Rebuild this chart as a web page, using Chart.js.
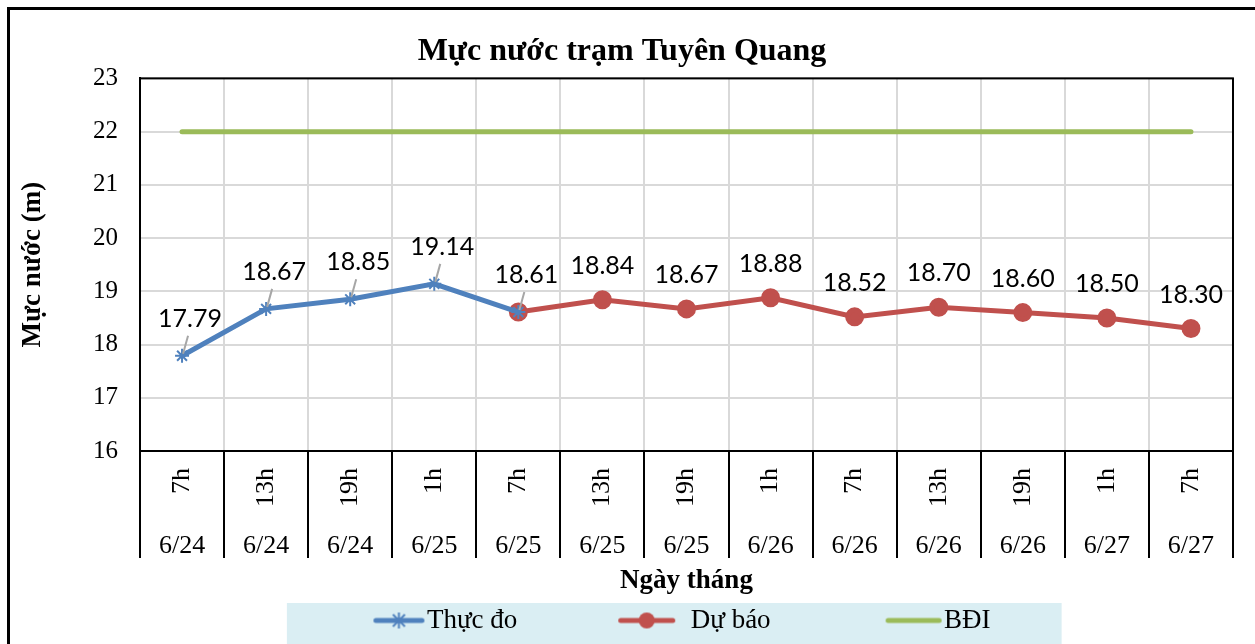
<!DOCTYPE html>
<html>
<head>
<meta charset="utf-8">
<script src="https://cdn.jsdelivr.net/npm/chart.js@4.4.0/dist/chart.umd.min.js"></script>
<style>
  html, body { margin: 0; padding: 0; background: #fff; overflow: hidden; }
  #frame { position: absolute; left: 7px; top: 7px; width: 1300px; height: 700px; border: 3px solid #000; }
  #wrap { position: absolute; left: 0; top: 0; width: 1255px; height: 644px; }
</style>
</head>
<body>
<div id="frame"></div>
<div id="wrap"><canvas id="mucNuoc" width="1255" height="644"></canvas></div>
<script>
// du lieu muc nuoc tram Tuyen Quang
const hours = ['7h', '13h', '19h', '1h', '7h', '13h', '19h', '1h', '7h', '13h', '19h', '1h', '7h'];
const dates = ['6/24', '6/24', '6/24', '6/25', '6/25', '6/25', '6/25', '6/26', '6/26', '6/26', '6/26', '6/27', '6/27'];
const thucDo = [17.79, 18.67, 18.85, 19.14, 18.61, null, null, null, null, null, null, null, null];
const duBao = [null, null, null, null, 18.61, 18.84, 18.67, 18.88, 18.52, 18.70, 18.60, 18.50, 18.30];
const bdi = [22, 22, 22, 22, 22, 22, 22, 22, 22, 22, 22, 22, 22];
const yMin = 16, yMax = 23, yStep = 1;

const BLUE = '#4F81BD', RED = '#C0504D', GREEN = '#9BBB59';
const SERIF = "'Liberation Serif', 'Times New Roman', serif";
const BOX = 160;   // be rong o ky hieu chu giai
const EXTRA = 14;  // hinh ky hieu tran ra 2 ben o

// ky hieu chu giai kieu Excel: doan thang + marker
// from/to tinh tu dau chu (am = ben trai)
function legendMarker(color, kind, from, to) {
  const c = document.createElement('canvas');
  c.width = BOX + 2 * EXTRA; c.height = 20;
  const g = c.getContext('2d');
  const textStart = BOX + 13.5 + EXTRA;
  const x0 = textStart + from, x1 = textStart + to;
  g.strokeStyle = color; g.fillStyle = color;
  g.lineWidth = 5; g.lineCap = 'round';
  g.beginPath(); g.moveTo(x0 + 3, 10); g.lineTo(x1 - 3, 10); g.stroke();
  const cx = (x0 + x1) / 2;
  if (kind === 'circle') {
    g.beginPath(); g.arc(cx, 10, 8, 0, Math.PI * 2); g.fill();
  } else if (kind === 'star') {
    g.lineWidth = 2; g.lineCap = 'butt';
    g.beginPath();
    g.moveTo(cx - 6, 4); g.lineTo(cx + 6, 16);
    g.moveTo(cx + 6, 4); g.lineTo(cx - 6, 16);
    g.moveTo(cx, 2); g.lineTo(cx, 18);
    g.stroke();
  }
  return c;
}
const markers = [
  legendMarker(BLUE, 'star', -54, -2),
  legendMarker(RED, 'circle', -73, -15),
  legendMarker(GREEN, 'none', -59, -2)
];

const plotBorder = {
  id: 'plotBorder',
  beforeDatasetsDraw(chart) {
    const {ctx, chartArea: a} = chart;
    ctx.save();
    ctx.strokeStyle = '#000'; ctx.lineWidth = 2;
    ctx.strokeRect(a.left, a.top, a.right - a.left, a.bottom - a.top);
    ctx.restore();
  }
};

const legendBg = {
  id: 'legendBg',
  beforeDraw(chart) {
    const boxes = chart.legend && chart.legend.legendHitBoxes;
    if (!boxes || !boxes.length) return;
    const first = boxes[0], last = boxes[boxes.length - 1];
    const ctx = chart.ctx;
    ctx.save();
    ctx.fillStyle = '#DAEEF3';
    const left = first.left + BOX + 13.5 - 140;
    const right = last.left + last.width + 71;
    ctx.fillRect(left, first.top - 4, right - left, chart.height);
    ctx.restore();
  }
};

const pointLabels = {
  id: 'pointLabels',
  afterDatasetsDraw(chart) {
    const ctx = chart.ctx;
    ctx.save();
    ctx.font = "25px Lato, 'Open Sans', sans-serif";
    ctx.textAlign = 'center';
    ctx.textBaseline = 'middle';
    [0, 1].forEach(di => {
      const values = chart.data.datasets[di].data;
      chart.getDatasetMeta(di).data.forEach((pt, i) => {
        if (values[i] == null) return;
        if (di === 1 && thucDo[i] != null) return; // diem chung chi ghi 1 lan
        if (di === 0) {
          ctx.strokeStyle = '#A6A6A6'; ctx.lineWidth = 2;
          ctx.beginPath(); ctx.moveTo(pt.x + 1, pt.y - 2); ctx.lineTo(pt.x + 6, pt.y - 20); ctx.stroke();
          ctx.fillStyle = '#000';
          ctx.fillText(values[i].toFixed(2), pt.x + 8, pt.y - 37);
        } else {
          ctx.fillStyle = '#000';
          ctx.fillText(values[i].toFixed(2), pt.x, pt.y - 34);
        }
      });
    });
    ctx.restore();
  }
};

const ctx_mucnuoc = document.getElementById('mucNuoc').getContext('2d');
const chart = new Chart(ctx_mucnuoc, {
  type: 'line',
  data: {
    labels: hours,
    datasets: [
      {
        label: 'Thực đo',
        data: thucDo,
        borderColor: BLUE,
        backgroundColor: BLUE,
        borderWidth: 5,
        pointStyle: 'star',
        pointRadius: 7,
        pointBorderWidth: 2,
        pointBorderColor: BLUE,
        tension: 0,
        spanGaps: false
      },
      {
        label: 'Dự báo',
        data: duBao,
        borderColor: RED,
        backgroundColor: RED,
        borderWidth: 5,
        pointStyle: 'circle',
        pointRadius: 7,
        pointBackgroundColor: RED,
        pointBorderColor: RED,
        tension: 0
      },
      {
        label: 'BĐI',
        data: bdi,
        borderColor: GREEN,
        backgroundColor: GREEN,
        borderWidth: 5,
        borderCapStyle: 'round',
        pointRadius: 0,
        tension: 0
      }
    ]
  },
  options: {
    responsive: false,
    animation: false,
    maintainAspectRatio: false,
    layout: { padding: { left: 11, right: 22, top: 10, bottom: 0 } },
    scales: {
      x: {
        type: 'category',
        position: 'bottom',
        offset: true,
        grid: {
          offset: true,
          color: '#D9D9D9',
          lineWidth: 2,
          tickColor: '#000',
          tickWidth: 2,
          tickLength: 107
        },
        border: { display: true, color: '#000', width: 2 },
        ticks: {
          autoSkip: false,
          minRotation: 90,
          maxRotation: 90,
          padding: -90,
          color: '#000',
          font: { family: SERIF, size: 26 }
        },
        afterFit: s => { s.height = 65; }
      },
      x2: {
        type: 'category',
        position: 'bottom',
        labels: dates,
        offset: true,
        grid: { display: false },
        border: { display: false },
        ticks: {
          autoSkip: false,
          maxRotation: 0,
          padding: 7,
          color: '#000',
          font: { family: SERIF, size: 26 }
        },
        title: {
          display: true,
          text: 'Ngày tháng',
          color: '#000',
          font: { family: SERIF, size: 27, weight: 'bold' },
          padding: { top: 0, bottom: 10 }
        },
        afterFit: s => { s.height = 91; }
      },
      y: {
        min: yMin,
        max: yMax,
        grid: { color: '#D9D9D9', lineWidth: 2, drawTicks: false },
        border: { display: true, color: '#000', width: 2 },
        ticks: {
          stepSize: yStep,
          padding: 22,
          color: '#000',
          font: { family: SERIF, size: 25 }
        },
        title: {
          display: true,
          text: 'Mực nước (m)',
          color: '#000',
          font: { family: SERIF, size: 27, weight: 'bold' },
          padding: { top: 6, bottom: 0 }
        },
        afterFit: s => { s.width = 129; }
      }
    },
    plugins: {
      title: {
        display: true,
        text: 'Mực nước trạm Tuyên Quang',
        color: '#000',
        font: { family: SERIF, size: 32, weight: 'bold' },
        padding: { top: 23, bottom: 7 }
      },
      legend: {
        display: true,
        position: 'bottom',
        labels: {
          usePointStyle: true,
          pointStyleWidth: BOX,
          padding: 0,
          color: '#000',
          font: { family: SERIF, size: 27 },
          generateLabels: c => c.data.datasets.map((ds, i) => ({
            text: ds.label,
            pointStyle: markers[i],
            fillStyle: ds.borderColor,
            strokeStyle: ds.borderColor,
            lineWidth: 0,
            hidden: false,
            datasetIndex: i,
            fontColor: '#000'
          }))
        }
      },
      tooltip: { enabled: false }
    }
  },
  plugins: [legendBg, plotBorder, pointLabels]
});
</script>
</body>
</html>
